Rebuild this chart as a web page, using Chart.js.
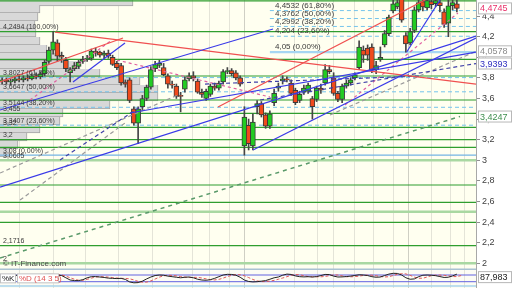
<!DOCTYPE html>
<html>
<head>
<meta charset="utf-8">
<script src="https://cdn.jsdelivr.net/npm/chart.js@4"></script>
<style>
  html, body { margin: 0; padding: 0; background: #fff; }
  #wrap { width: 512px; height: 288px; }
</style>
</head>
<body>
<div id="wrap"><canvas id="c" width="512" height="288"></canvas></div>
<script>
// Candles (one per session, index 0..107)
const opens  = [3.77,3.78,3.76,3.77,3.79,3.78,3.80,3.79,3.82,3.81,3.84,3.96,4.07,4.14,4.02,3.97,3.85,3.89,3.91,3.96,3.98,3.99,4.06,4.05,4.02,4.04,4.00,3.94,3.92,3.76,3.78,3.50,3.36,3.52,3.60,3.71,3.89,3.92,3.90,3.82,3.74,3.72,3.63,3.69,3.79,3.82,3.77,3.66,3.60,3.64,3.72,3.70,3.76,3.86,3.87,3.85,3.80,3.14,3.34,3.14,3.52,3.55,3.44,3.33,3.56,3.70,3.77,3.79,3.75,3.68,3.58,3.66,3.67,3.60,3.59,3.70,3.75,3.88,3.80,3.65,3.59,3.72,3.75,3.80,3.90,4.07,4.09,4.10,3.88,3.98,4.12,4.23,4.45,4.49,4.58,4.21,4.14,4.26,4.46,4.54,4.48,4.54,4.52,4.53,4.44,4.33,4.50,4.52];
const highs  = [3.80,3.80,3.79,3.81,3.82,3.82,3.83,3.84,3.85,3.86,3.97,4.10,4.249,4.17,4.05,4.00,3.90,3.95,3.97,4.01,4.02,4.08,4.09,4.06,4.06,4.07,4.02,3.96,3.94,3.78,3.80,3.52,3.52,3.63,3.73,3.91,3.96,3.97,3.94,3.84,3.77,3.74,3.66,3.81,3.85,3.86,3.79,3.69,3.69,3.74,3.75,3.77,3.88,3.90,3.89,3.87,3.82,3.52,3.40,3.45,3.58,3.57,3.46,3.48,3.69,3.75,3.82,3.81,3.78,3.70,3.67,3.73,3.75,3.62,3.72,3.74,3.93,3.92,3.85,3.67,3.74,3.78,3.80,3.85,4.16,4.11,4.12,4.13,3.96,4.10,4.26,4.41,4.58,4.59,4.60,4.24,4.28,4.49,4.60,4.60,4.60,4.60,4.60,4.58,4.47,4.58,4.60,4.60];
const lows   = [3.74,3.74,3.73,3.75,3.76,3.76,3.77,3.78,3.79,3.79,3.82,3.94,4.03,3.96,3.95,3.86,3.76,3.87,3.89,3.94,3.96,3.97,4.01,4.00,3.99,3.99,3.92,3.88,3.73,3.71,3.56,3.34,3.16,3.48,3.58,3.69,3.86,3.90,3.82,3.70,3.70,3.60,3.47,3.66,3.77,3.77,3.65,3.61,3.58,3.62,3.68,3.68,3.74,3.84,3.82,3.78,3.72,3.05,3.10,3.10,3.45,3.42,3.31,3.31,3.53,3.67,3.74,3.76,3.63,3.54,3.56,3.64,3.65,3.40,3.57,3.65,3.73,3.84,3.63,3.57,3.56,3.70,3.73,3.78,3.88,3.95,3.97,3.85,3.84,3.96,4.10,4.21,4.43,4.47,4.34,4.05,4.12,4.24,4.44,4.45,4.46,4.47,4.49,4.44,4.29,4.20,4.46,4.44];
const closes = [3.78,3.76,3.77,3.79,3.78,3.80,3.79,3.82,3.81,3.84,3.95,4.07,4.15,4.01,4.00,3.89,3.88,3.92,3.95,3.98,3.99,4.06,4.04,4.02,4.04,4.01,3.93,3.90,3.75,3.74,3.58,3.36,3.50,3.60,3.71,3.88,3.93,3.94,3.83,3.74,3.73,3.62,3.62,3.78,3.82,3.80,3.66,3.64,3.67,3.72,3.70,3.75,3.86,3.87,3.84,3.80,3.74,3.42,3.16,3.37,3.55,3.44,3.33,3.45,3.65,3.72,3.79,3.78,3.65,3.56,3.64,3.70,3.73,3.52,3.70,3.68,3.88,3.86,3.65,3.59,3.72,3.75,3.78,3.83,4.10,4.02,4.02,3.88,3.92,4.00,4.23,4.39,4.52,4.53,4.36,4.13,4.25,4.46,4.53,4.49,4.55,4.51,4.55,4.50,4.32,4.50,4.53,4.4745];

// Stochastic (14 3 5)
const stochK = [70,72,75,78,76,72,70,74,78,82,85,88,86,80,75,55,35,30,30,38,55,65,66,62,58,52,50,48,50,40,18,10,12,25,45,62,75,80,78,70,65,60,55,60,62,55,42,35,33,38,50,65,80,86,85,78,60,35,22,18,20,25,30,42,55,62,78,88,85,72,65,63,65,62,66,75,85,84,70,62,63,66,70,76,82,80,75,65,60,62,75,88,95,94,80,55,42,45,65,78,80,78,74,66,58,60,72,87.983];
const stochD = [68,70,72,75,76,75,73,72,74,77,81,85,86,84,80,70,55,42,33,33,41,52,62,65,64,61,57,53,50,49,46,36,23,15,16,27,44,61,73,78,76,72,66,61,58,59,59,53,45,38,36,41,52,66,77,84,82,73,57,40,27,21,21,25,32,42,53,65,77,84,82,74,66,64,64,64,67,74,81,80,72,65,64,66,70,76,79,78,73,67,62,65,75,86,92,90,77,61,51,51,62,74,79,79,77,72,66,66,75];
const stochLevels = [80, 20];

// Volume at price (left histogram)
const vapLevels = [4.537,4.469,4.391,4.313,4.236,4.158,4.080,4.003,3.925,3.847,3.770,3.692,3.614,3.537,3.459,3.381,3.304,3.226,3.148,3.071];
const vapVolumes = [133,40,38,35,36,40,47,60,80,100,140,158,158,110,63,60,40,27,18,10];

// Horizontal levels
const greenLevels = [4.547,4.2494,3.98,3.818,3.585,3.455,3.32,3.2,3.126,2.76,2.592,2.398,2.1716];
const roundLevels = [3, 2.5, 2];
const fibLeftLevels = [3.8027,3.6647,3.5144,3.3407];
const fibLeftZero = 3.05;
const fibRightLevels = [4.4532,4.3762,4.2992,4.204];
const fibRightZero = 4.05;
const fibRightStart = 63;

const leftLabels = ['4,2494 (100,00%)','3,8027 (61,80%)','3,6647 (50,00%)','3,5144 (38,20%)','3,455','3,3407 (23,60%)','3,32','3,2','3,08 (0,00%)','3,0605','2,1716','2'];
const leftLabelLevels = [4.2494,3.8027,3.6647,3.5144,3.455,3.3407,3.32,3.2,3.05,3.0,2.1716,2.0];
const rightLabels = ['4,4532 (61,80%)','4,3762 (50,00%)','4,2992 (38,20%)','4,204 (23,60%)','4,05 (0,00%)'];
const rightLabelLevels = [4.4532,4.3762,4.2992,4.204,4.05];

// Trend lines: [x0, y0, x1, y1] in candle index / price
const blueLines = [[-0.5,2.740,111.5,4.206],[-0.5,3.488,63.74,4.274],[16.68,3.760,28.91,4.139],[30.09,3.459,111.5,4.051],[59.03,3.100,111.5,4.187],[95.19,4.051,103.03,4.556]];
const redLines = [[12.44,4.245,111.5,3.740],[-0.5,3.760,28.44,4.187],[50.79,3.517,99.5,4.556]];
const greenDashLines = [[-0.5,2.051,107.74,3.4247]];
const navyDashLines = [[60.68,3.585,111.5,3.9393],[13.62,3.003,32.44,3.517],[47.74,3.740,98.32,3.818]];
const grayDashLines = [[77.15,3.440,111.5,4.0578],[-0.5,2.876,41.85,3.643],[4.21,2.614,28.91,3.362]];
const pinkDashLines = [[6.56,3.585,25.85,4.168],[27.03,3.973,63.03,3.614],[80.68,3.537,107.26,4.430]];

// Right side value boxes
const boxValues = [4.4745, 4.0578, 3.9393, 3.4247];
const boxColors = ['#e8306a', '#8a8a8a', '#3030c0', '#3f8f4f'];

const yTicks = [2,2.2,2.4,2.6,2.8,3,3.2,3.4,3.6,3.8,4,4.2,4.4];
const gridIdx = [4.2,12,19.5,27.3,35.3,44.7,48.9,53.6,57.1,68.9,74.1,77.9,83,87.3,92,95.5,101.1,105.4,108.9];
const gridDark = [57.1, 95.5];

const xMin = -0.5, xMax = 111.5;
const yMin = 1.76, yMax = 4.556;
const FONT = '"Liberation Sans", Arial, sans-serif';

function fmt(v, d) { return v.toFixed(d).replace('.', ','); }

function seg(p, color, width, dash, order, axis) {
    return {
        type: 'line',
        data: [{ x: p[0], y: p[1] }, { x: p[2], y: p[3] }],
        borderColor: color, borderWidth: width, borderDash: dash || [],
        pointRadius: 0, fill: false, tension: 0, order: order,
        xAxisID: 'x', yAxisID: axis || 'y'
    };
}
function hline(level, x0, color, width, dash, order, axis) {
    return seg([x0, level, xMax, level], color, width, dash, order, axis);
}

const datasets = [];

// volume profile
datasets.push({
    type: 'bar', indexAxis: 'y', xAxisID: 'xv', yAxisID: 'y',
    data: vapLevels.map((p, i) => ({ x: vapVolumes[i], y: p })),
    backgroundColor: '#d8d8d8', borderColor: '#a4a4a4',
    borderWidth: { top: 0, left: 0, right: 1, bottom: 1 }, borderSkipped: false,
    barThickness: 8, grouped: false, order: 100
});

// horizontal levels
greenLevels.forEach(l => datasets.push(hline(l, xMin, '#2f9e2f', 1.2, [], 50)));
roundLevels.forEach(l => datasets.push(hline(l, xMin, '#a9d8a2', 2.5, [], 51)));
fibLeftLevels.forEach(l => datasets.push(hline(l, xMin, '#74c4ec', 1, [4, 3], 50)));
datasets.push(hline(fibLeftZero, xMin, '#74b4e4', 1.2, [], 50));
fibRightLevels.forEach(l => datasets.push(hline(l, fibRightStart, '#74c4ec', 1, [4, 3], 50)));
datasets.push(hline(fibRightZero, fibRightStart, '#a6d6f2', 2.2, [], 50));

// candles
datasets.push({
    type: 'bar', data: lows.map((l, i) => ({ x: i, y: [l, highs[i]] })),
    backgroundColor: '#454545', barThickness: 1, grouped: false, order: 10
});
datasets.push({
    type: 'bar', data: opens.map((o, i) => ({ x: i, y: [o, closes[i]] })),
    backgroundColor: opens.map((o, i) => closes[i] >= o ? '#22cc22' : '#f04a1c'),
    borderColor: '#3a3a3a', borderWidth: 1, borderSkipped: false,
    barThickness: 5, grouped: false, order: 9
});

// trend lines
blueLines.forEach(p => datasets.push(seg(p, '#3a3ae8', 1.2, [], 5)));
redLines.forEach(p => datasets.push(seg(p, '#f05050', 1.2, [], 5)));
greenDashLines.forEach(p => datasets.push(seg(p, '#5a9a6a', 1.5, [4, 4], 5)));
navyDashLines.forEach(p => datasets.push(seg(p, '#4040a8', 1.2, [4, 3], 5)));
grayDashLines.forEach(p => datasets.push(seg(p, '#9a9a9a', 1.2, [4, 3], 5)));
pinkDashLines.forEach(p => datasets.push(seg(p, '#e060a0', 1.2, [3, 3], 5)));

// stochastic panel
datasets.push(hline(131, xMin, '#aac2d2', 1.5, [], 3, 'y2'));
datasets.push(hline(-18, xMin, '#a8d4ec', 1.5, [], 3, 'y2'));
stochLevels.forEach(l => datasets.push(hline(l, xMin, '#6262e0', 1, [], 3, 'y2')));
datasets.push({
    type: 'line', xAxisID: 'x', yAxisID: 'y2',
    data: stochD.map((v, i) => ({ x: i, y: v })),
    borderColor: '#e05a5a', borderWidth: 1, borderDash: [3, 2], pointRadius: 0, tension: 0, order: 2
});
datasets.push({
    type: 'line', xAxisID: 'x', yAxisID: 'y2',
    data: stochK.map((v, i) => ({ x: i, y: v })),
    borderColor: '#222', borderWidth: 1, pointRadius: 0, tension: 0, order: 1
});

const bgPlugin = {
    id: 'bg',
    beforeDraw(chart) {
        const { ctx, chartArea: a, scales } = chart;
        const panelTop = scales.y2.getPixelForValue(131);
        ctx.save();
        ctx.fillStyle = '#ffffff';
        ctx.fillRect(0, 0, chart.width, chart.height);
        ctx.fillStyle = '#fffff0';
        ctx.fillRect(a.left, a.top, a.width, panelTop - a.top);
        ctx.fillStyle = '#fcfcf4';
        ctx.fillRect(a.left, panelTop, a.width, a.bottom - panelTop);
        ctx.restore();
    }
};

const textPlugin = {
    id: 'texts',
    afterDraw(chart) {
        const { ctx, chartArea: a, scales: { x, y, y2 } } = chart;
        ctx.save();
        ctx.textBaseline = 'bottom';
        ctx.fillStyle = '#3a3a3a';
        ctx.font = '7px ' + FONT;
        leftLabels.forEach((t, k) => ctx.fillText(t, a.left + 3, y.getPixelForValue(leftLabelLevels[k]) - 1));
        ctx.font = '8px ' + FONT;
        const rx = x.getPixelForValue(fibRightStart + 1.2);
        rightLabels.forEach((t, k) => ctx.fillText(t, rx, y.getPixelForValue(rightLabelLevels[k]) - 1));

        ctx.fillStyle = '#4a4a4a';
        ctx.font = '8px ' + FONT;
        ctx.fillText('\u00a9 IT-Finance.com', a.left + 3, y.getPixelForValue(2) + 5);

        // stochastic legend
        const ly = y2.getPixelForValue(50);
        ctx.textBaseline = 'middle';
        ctx.font = '8px ' + FONT;
        ctx.fillStyle = '#ffffff';
        ctx.fillRect(a.left, ly - 5, 16, 10);
        ctx.fillRect(a.left + 17, ly - 5, 42, 10);
        ctx.strokeStyle = '#c0c0c0';
        ctx.lineWidth = 1;
        ctx.strokeRect(a.left + 0.5, ly - 4.5, 15, 9);
        ctx.strokeRect(a.left + 17.5, ly - 4.5, 41, 9);
        ctx.fillStyle = '#222';
        ctx.fillText('%K', a.left + 2, ly);
        ctx.fillStyle = '#e05050';
        ctx.fillText('%D (14 3 5)', a.left + 19, ly);

        // value boxes on the axis
        ctx.font = '9px ' + FONT;
        const drawBox = (py, text, color) => {
            ctx.fillStyle = '#ffffff';
            ctx.fillRect(a.right + 2, py - 6, 34, 12);
            ctx.strokeStyle = '#b8b8b8';
            ctx.strokeRect(a.right + 2.5, py - 5.5, 33, 11);
            ctx.fillStyle = color;
            ctx.fillText(text, a.right + 4, py + 0.5);
        };
        boxValues.forEach((v, k) => drawBox(y.getPixelForValue(v), fmt(v, 4), boxColors[k]));
        drawBox(y2.getPixelForValue(stochK[stochK.length - 1]) + 3, fmt(stochK[stochK.length - 1], 3), '#222');
        ctx.restore();
    }
};

new Chart(document.getElementById('c'), {
    type: 'line',
    data: { datasets: datasets },
    options: {
        responsive: false,
        animation: false,
        devicePixelRatio: 1,
        events: [],
        layout: { padding: 0 },
        plugins: { legend: { display: false }, tooltip: { enabled: false } },
        scales: {
            x: {
                type: 'linear', min: xMin, max: xMax, offset: false,
                grid: {
                    offset: false, drawTicks: false, lineWidth: 1,
                    color: c => gridDark.includes(c.tick.value) ? '#cfcfc4' : '#e4e4d8'
                },
                border: { display: false },
                ticks: { display: false },
                afterBuildTicks: s => { s.ticks = gridIdx.map(v => ({ value: v })); },
                afterFit: s => { s.height = 0; s.paddingLeft = 0; s.paddingRight = 0; }
            },
            xv: { type: 'linear', axis: 'x', display: false, min: 0, max: 476, offset: false, grid: { offset: false } },
            y: {
                type: 'linear', position: 'right', min: yMin, max: yMax, offset: false, beginAtZero: false,
                grid: { drawOnChartArea: false, drawTicks: true, tickLength: 4, color: '#909090', offset: false },
                border: { display: true, color: '#a8a8a8' },
                ticks: {
                    color: '#404040', padding: 2, font: { size: 9, family: FONT },
                    callback: v => String(Math.round(v * 10) / 10).replace('.', ',')
                },
                afterBuildTicks: s => { s.ticks = yTicks.map(v => ({ value: v })); },
                afterFit: s => { s.width = 36; s.paddingTop = 0; s.paddingBottom = 0; }
            },
            y2: { type: 'linear', position: 'right', display: false, min: -36.4, max: 2542.6, offset: false }
        }
    },
    plugins: [bgPlugin, textPlugin]
});
</script>
</body>
</html>
